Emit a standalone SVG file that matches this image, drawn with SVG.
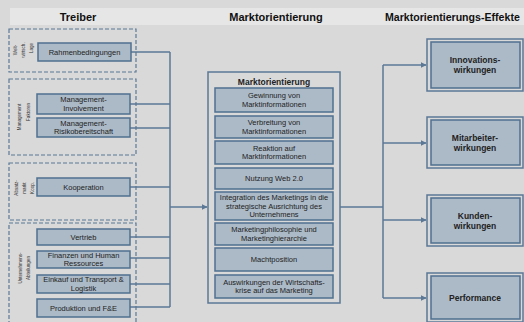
<svg xmlns="http://www.w3.org/2000/svg" width="524" height="322" viewBox="0 0 524 322">
<defs>
<style>
.bg{fill:#d9d9d9}
.band{fill:#e6e6e6}
.hdr{font-family:"Liberation Sans",Arial,sans-serif;font-weight:bold;font-size:11px;fill:#111}
.grp{fill:none;stroke:#5b7896;stroke-width:1.2;stroke-dasharray:4 2}
.box{fill:#acbac8;stroke:#4f7090;stroke-width:1.5}
.big{fill:#d9d9d9;stroke:#5b7896;stroke-width:1.5}
.t{font-family:"Liberation Sans",Arial,sans-serif;font-size:7.5px;fill:#222;text-anchor:middle}
.tb{font-family:"Liberation Sans",Arial,sans-serif;font-size:8.5px;font-weight:bold;fill:#222;text-anchor:middle}
.vt{font-family:"Liberation Sans",Arial,sans-serif;font-size:4.5px;fill:#333;text-anchor:middle}
.ln{fill:none;stroke:#5b7896;stroke-width:1.5}
</style>
<marker id="ah" viewBox="0 0 10 10" refX="9" refY="5" markerWidth="4" markerHeight="4" orient="auto">
<path d="M0,0 L10,5 L0,10 z" fill="#5b7896"/>
</marker>
</defs>
<rect class="bg" x="0" y="0" width="524" height="322"/>
<rect class="band" x="10" y="8" width="514" height="17"/>
<text class="hdr" x="78" y="20.5" text-anchor="middle">Treiber</text>
<text class="hdr" x="276" y="20.5" text-anchor="middle">Marktorientierung</text>
<text class="hdr" x="385" y="20.5" style="font-size:10.6px">Marktorientierungs-Effekte</text>

<g id="connectors">
<path class="ln" d="M131,52 H170 M130,104 H170 M130,128 H170 M130,187 H170 M130,237 H170 M130,258 H170 M130,284 H170 M130,307 H170 M170,52 V307"/>
<path class="ln" d="M170,207 H207" marker-end="url(#ah)"/>
<path class="ln" d="M340,207 H383 M383,65 V298"/>
<path class="ln" d="M383,65 H426" marker-end="url(#ah)"/>
<path class="ln" d="M383,143 H426" marker-end="url(#ah)"/>
<path class="ln" d="M383,220 H426" marker-end="url(#ah)"/>
<path class="ln" d="M383,298 H426" marker-end="url(#ah)"/>
</g>

<g id="group1">
<rect class="grp" x="9" y="29" width="127" height="43"/>
<text class="vt" transform="translate(17,50) rotate(-90)">Welt-</text>
<text class="vt" transform="translate(25,50) rotate(-90)">wirtsch.</text>
<text class="vt" transform="translate(33,48) rotate(-90)">Lage</text>
</g>
<g id="rahmen"><rect class="box" x="38" y="43" width="93" height="18"/><text class="t" x="84.5" y="54.7">Rahmenbedingungen</text></g>

<g id="group2">
<rect class="grp" x="9" y="79" width="127" height="76"/>
<text class="vt" transform="translate(21,117) rotate(-90)">Management</text>
<text class="vt" transform="translate(30,112) rotate(-90)">Faktoren</text>
</g>
<g id="mgmt1"><rect class="box" x="37" y="94" width="93" height="20"/><text class="t" x="83.5" y="102.4">Management-</text><text class="t" x="83.5" y="110.9">Involvement</text></g>
<g id="mgmt2"><rect class="box" x="37" y="118" width="93" height="19"/><text class="t" x="83.5" y="125.9">Management-</text><text class="t" x="83.5" y="134.4">Risikobereitschaft</text></g>

<g id="group3">
<rect class="grp" x="9" y="163" width="127" height="57"/>
<text class="vt" transform="translate(18,188) rotate(-90)">Absatz-</text>
<text class="vt" transform="translate(26,188) rotate(-90)">markt</text>
<text class="vt" transform="translate(34,188) rotate(-90)">Koop.</text>
</g>
<g id="koop"><rect class="box" x="37" y="178" width="93" height="18"/><text class="t" x="83.5" y="189.7">Kooperation</text></g>

<g id="group4">
<rect class="grp" x="9" y="223" width="127" height="104"/>
<text class="vt" transform="translate(22,268) rotate(-90)">Unternehmens-</text>
<text class="vt" transform="translate(30,268) rotate(-90)">Abteilungen</text>
</g>
<g id="vertrieb"><rect class="box" x="37" y="229" width="93" height="16"/><text class="t" x="83.5" y="239.7">Vertrieb</text></g>
<g id="finanzen"><rect class="box" x="37" y="251" width="93" height="17"/><text class="t" x="83.5" y="257.9">Finanzen und Human</text><text class="t" x="83.5" y="266.4">Ressources</text></g>
<g id="einkauf"><rect class="box" x="37" y="275" width="93" height="18"/><text class="t" x="83.5" y="282.4">Einkauf und Transport &amp;</text><text class="t" x="83.5" y="290.9">Logistik</text></g>
<g id="produktion"><rect class="box" x="37" y="299" width="93" height="18"/><text class="t" x="83.5" y="310.7">Produktion und F&amp;E</text></g>

<g id="marktorientierung">
<rect class="big" x="208" y="72" width="132" height="231"/>
<text class="tb" x="274" y="85">Marktorientierung</text>
<rect class="box" x="215" y="88" width="118" height="24"/><text class="t" x="274" y="98.4">Gewinnung von</text><text class="t" x="274" y="106.9">Marktinformationen</text>
<rect class="box" x="215" y="116" width="118" height="22"/><text class="t" x="274" y="125.4">Verbreitung von</text><text class="t" x="274" y="133.9">Marktinformationen</text>
<rect class="box" x="215" y="141" width="118" height="23"/><text class="t" x="274" y="150.9">Reaktion auf</text><text class="t" x="274" y="159.4">Marktinformationen</text>
<rect class="box" x="215" y="168" width="118" height="21"/><text class="t" x="274" y="181.2">Nutzung Web 2.0</text>
<rect class="box" x="215" y="192" width="118" height="28"/><text class="t" x="274" y="200.2">Integration des Marketings in die</text><text class="t" x="274" y="208.7">strategische Ausrichtung des</text><text class="t" x="274" y="217.2">Unternehmens</text>
<rect class="box" x="215" y="223" width="118" height="22"/><text class="t" x="274" y="232.4">Marketingphilosophie und</text><text class="t" x="274" y="240.9">Marketinghierarchie</text>
<rect class="box" x="215" y="248" width="118" height="23"/><text class="t" x="274" y="262.2">Machtposition</text>
<rect class="box" x="215" y="275" width="118" height="23"/><text class="t" x="274" y="284.9">Auswirkungen der Wirtschafts-</text><text class="t" x="274" y="293.4">krise auf das Marketing</text>
</g>

<g id="innovation"><rect class="big" x="427" y="39" width="96" height="52"/><rect class="box" x="431" y="42" width="89" height="46"/><text class="tb" x="475" y="63">Innovations-</text><text class="tb" x="475" y="73">wirkungen</text></g>
<g id="mitarbeiter"><rect class="big" x="427" y="117" width="96" height="51"/><rect class="box" x="431" y="120" width="89" height="45"/><text class="tb" x="475" y="140.5">Mitarbeiter-</text><text class="tb" x="475" y="150.5">wirkungen</text></g>
<g id="kunden"><rect class="big" x="427" y="195" width="96" height="51"/><rect class="box" x="431" y="198" width="89" height="45"/><text class="tb" x="475" y="218.5">Kunden-</text><text class="tb" x="475" y="228.5">wirkungen</text></g>
<g id="performance"><rect class="big" x="427" y="273" width="96" height="49"/><rect class="box" x="431" y="276" width="89" height="43"/><text class="tb" x="475" y="300.5">Performance</text></g>
</svg>
